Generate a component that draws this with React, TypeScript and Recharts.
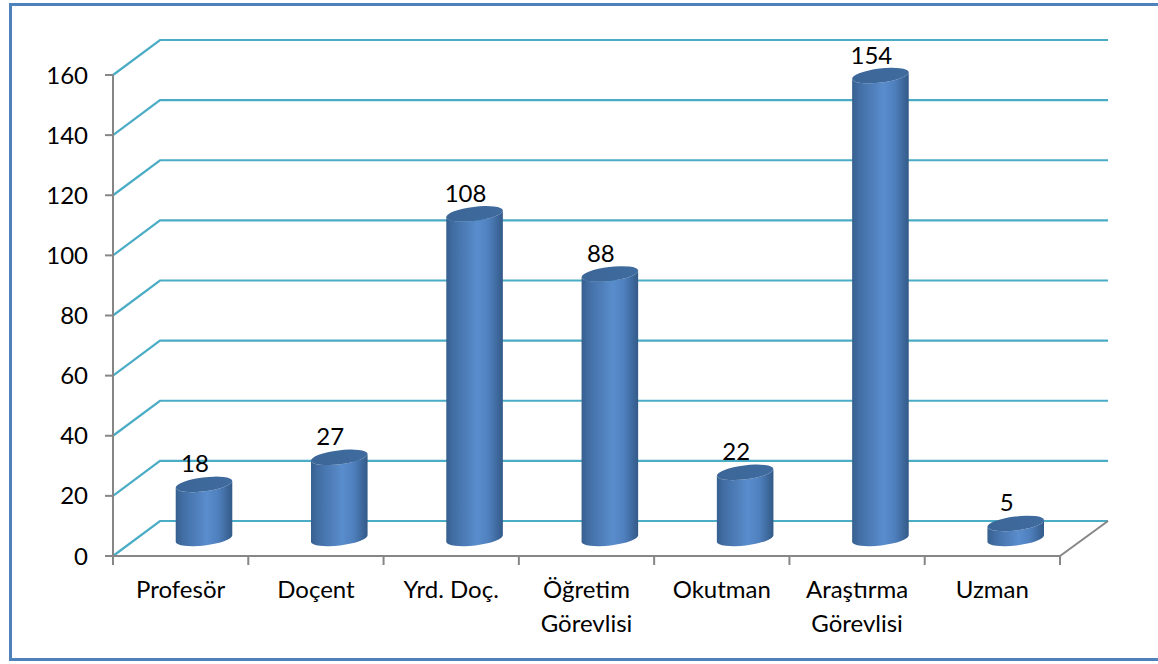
import { BarChart, Bar, XAxis, YAxis, CartesianGrid, LabelList } from 'recharts';

// =============================================================================
// Data
// =============================================================================

const categories = [
  'Profesör',
  'Doçent',
  'Yrd. Doç.',
  'Öğretim\nGörevlisi',
  'Okutman',
  'Araştırma\nGörevlisi',
  'Uzman',
];
const counts = [18, 27, 108, 88, 22, 154, 5];
const yTicks = [0, 20, 40, 60, 80, 100, 120, 140, 160];

const data = categories.map((name, i) => ({ name, value: counts[i] }));

// =============================================================================
// Constants
// =============================================================================

const FONT = 'Lato, "Liberation Sans", sans-serif';
const FONT_SIZE = 24;
const GRID_COLOR = '#4BACC6';
const AXIS_COLOR = '#868686';
const DEPTH_X = 47;
const DEPTH_Y = 35;
const BAR_W = 57;
const RY = 7;
const TILT = -7;

// =============================================================================
// Shapes
// =============================================================================

function GridLine(props: any) {
  const { x1, y1, x2 } = props;
  const pts = `${x1},${y1} ${x1 + DEPTH_X},${y1 - DEPTH_Y} ${x2 + DEPTH_X + 1},${y1 - DEPTH_Y}`;
  return <polyline key={props.key} points={pts} fill="none" stroke={GRID_COLOR} strokeWidth={2.2} />;
}

function Cylinder(props: any) {
  const { x, y, width, height } = props;
  if (width == null || height == null) return null;
  const cx = x + width / 2 + DEPTH_X / 2;
  const rx = width / 2;
  const topY = y - DEPTH_Y / 2;
  const botY = y + height - DEPTH_Y / 2;
  const t = (TILT * Math.PI) / 180;
  const dx = rx * Math.cos(t);
  const dy = rx * Math.sin(t);
  const lt = [cx - dx, topY - dy];
  const rt = [cx + dx, topY + dy];
  const lb = [cx - dx, botY - dy];
  const rb = [cx + dx, botY + dy];
  const body = [
    `M${lt[0]},${lt[1]}`,
    `L${lb[0]},${lb[1]}`,
    `A${rx},${RY} ${TILT} 0 0 ${rb[0]},${rb[1]}`,
    `L${rt[0]},${rt[1]}`,
    `A${rx},${RY} ${TILT} 0 1 ${lt[0]},${lt[1]}`,
    'Z',
  ].join(' ');
  return (
    <g>
      <path d={body} fill="url(#cylBody)" />
      <ellipse
        cx={cx}
        cy={topY}
        rx={rx}
        ry={RY}
        transform={`rotate(${TILT} ${cx} ${topY})`}
        fill="url(#cylTop)"
      />
    </g>
  );
}

function ValueLabel(props: any) {
  const { x, y, width, value } = props;
  const cx = x + width / 2 + DEPTH_X / 2 - 9;
  const ty = y - DEPTH_Y / 2 - 12;
  return (
    <text x={cx} y={ty} textAnchor="middle" fontFamily={FONT} fontSize={FONT_SIZE} fill="#000">
      {value}
    </text>
  );
}

function CategoryTick(props: any) {
  const { x, y, payload, index, visibleTicksCount } = props;
  const half = payload.offset ?? (1060 - 113) / categories.length / 2;
  const lines = String(payload.value).split('\n');
  const last = index === visibleTicksCount - 1;
  return (
    <g>
      <line x1={x - half} y1={y} x2={x - half} y2={y + 9} stroke={AXIS_COLOR} strokeWidth={2} />
      {last && (
        <>
          <line x1={x + half} y1={y} x2={x + half} y2={y + 9} stroke={AXIS_COLOR} strokeWidth={2} />
          <line
            x1={x + half}
            y1={y}
            x2={x + half + DEPTH_X + 1}
            y2={y - DEPTH_Y}
            stroke={AXIS_COLOR}
            strokeWidth={2}
          />
        </>
      )}
      {lines.map((ln, i) => (
        <text
          key={i}
          x={x}
          y={y + 42 + i * 34}
          textAnchor="middle"
          fontFamily={FONT}
          fontSize={FONT_SIZE}
          fill="#000"
        >
          {ln}
        </text>
      ))}
    </g>
  );
}

// =============================================================================
// Component
// =============================================================================

export default function App() {
  return (
    <div
      style={{
        position: 'absolute',
        left: 0,
        top: 0,
        width: 1158,
        height: 664,
        overflow: 'hidden',
        background: '#fff',
      }}
    >
      <div
        style={{
          position: 'absolute',
          left: 9,
          top: 3,
          width: 1200,
          height: 652,
          border: '3.5px solid #4F81BD',
        }}
      />
      <div style={{ position: 'absolute', left: 0, top: 0 }}>
        <BarChart
          width={1158}
          height={664}
          data={data}
          margin={{ top: 75, right: 98, bottom: 0, left: 13 }}
        >
          <defs>
            <linearGradient id="cylBody" x1="0" y1="0" x2="1" y2="0">
              <stop offset="0%" stopColor="#36608F" />
              <stop offset="12%" stopColor="#416DA3" />
              <stop offset="55%" stopColor="#5A8DCD" />
              <stop offset="75%" stopColor="#4F80BE" />
              <stop offset="100%" stopColor="#335A88" />
            </linearGradient>
            <linearGradient id="cylTop" x1="0" y1="0" x2="1" y2="0">
              <stop offset="0%" stopColor="#3C6697" />
              <stop offset="100%" stopColor="#3F6B9F" />
            </linearGradient>
          </defs>
          <CartesianGrid vertical={false} horizontal={GridLine} />
          <XAxis
            dataKey="name"
            interval={0}
            height={108}
            tickSize={0}
            tickMargin={0}
            tickLine={false}
            axisLine={{ stroke: AXIS_COLOR, strokeWidth: 2 }}
            tick={CategoryTick}
          />
          <YAxis
            width={100}
            domain={[0, 160]}
            ticks={yTicks}
            interval={0}
            tickSize={8}
            tickMargin={17}
            axisLine={{ stroke: AXIS_COLOR, strokeWidth: 2 }}
            tickLine={{ stroke: AXIS_COLOR, strokeWidth: 2 }}
            tick={{ fill: '#000', fontSize: FONT_SIZE, fontFamily: FONT }}
          />
          <Bar dataKey="value" barSize={BAR_W} shape={Cylinder} isAnimationActive={false}>
            <LabelList dataKey="value" content={ValueLabel} />
          </Bar>
        </BarChart>
      </div>
    </div>
  );
}
